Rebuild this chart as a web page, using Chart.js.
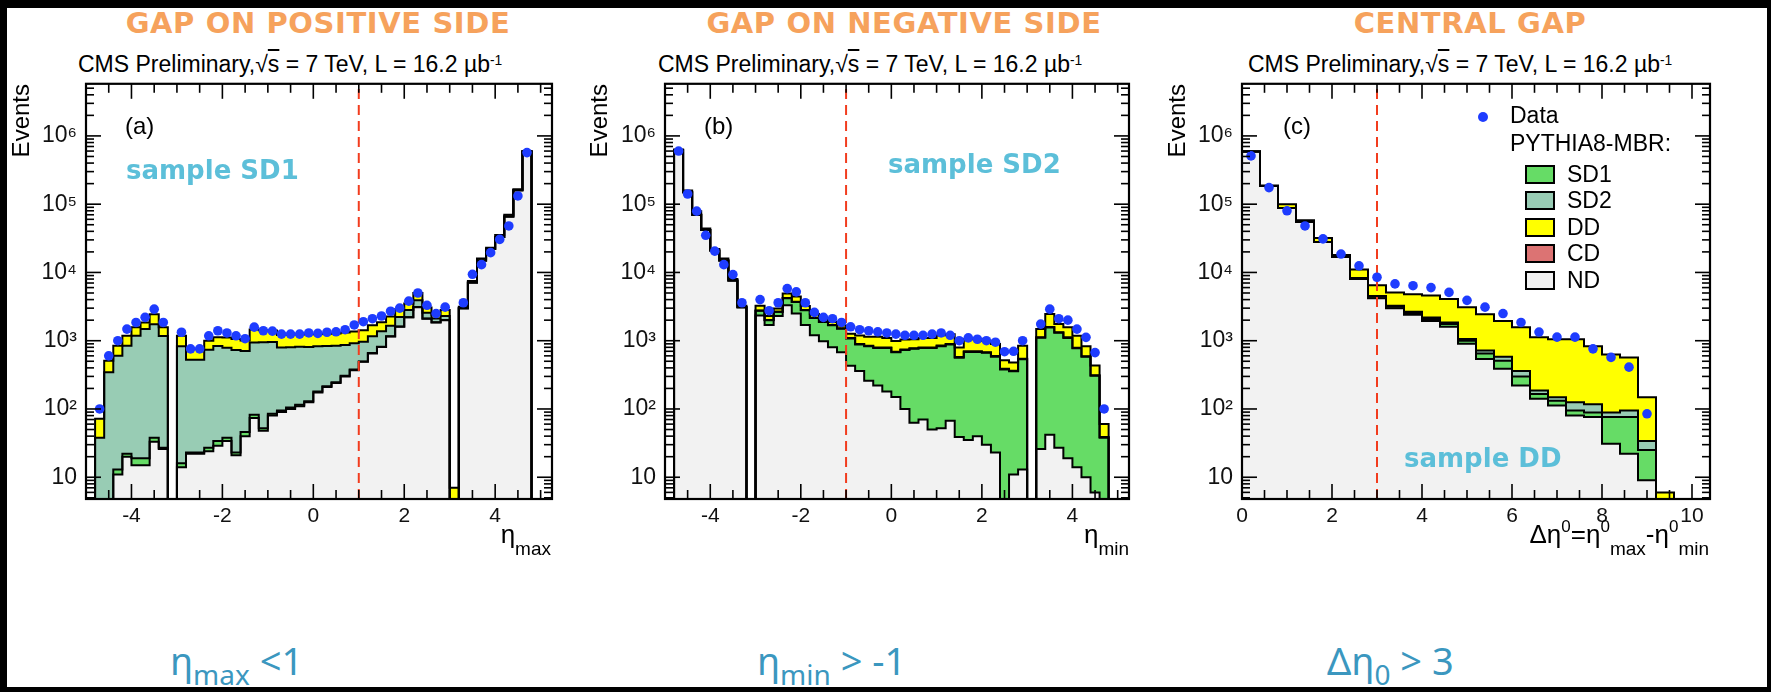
<!DOCTYPE html>
<html>
<head>
<meta charset="utf-8">
<title>Rapidity gap distributions</title>
<script src="https://cdn.jsdelivr.net/npm/chart.js@4.4.1/dist/chart.umd.min.js"></script>
<style>
  html, body { margin: 0; padding: 0; background: #000; width: 1771px; height: 692px; overflow: hidden; }
  #sheet { position: absolute; left: 7px; top: 8px; width: 1760px; height: 679px; background: #fff; }
  canvas { position: absolute; }
  .txt { position: absolute; white-space: nowrap; line-height: 1; font-family: "Liberation Sans", Arial, sans-serif; color: #000; }
  .gap { font-family: "DejaVu Sans", sans-serif; font-weight: bold; font-size: 29px; letter-spacing: 0.6px; color: #f6a25c; transform: translateX(-50%); }
  .cms { font-size: 23px; }
  .ov { text-decoration: overline; }
  .up { font-size: 0.6em; position: relative; top: -0.5em; }
  .events { font-size: 24px; transform-origin: 0 0; transform: rotate(-90deg) translateX(-100%); }
  .tag { font-size: 24px; }
  .sample { font-family: "DejaVu Sans", sans-serif; font-weight: bold; font-size: 26px; color: #5cbfd9; }
  .axis { font-size: 26px; transform: translateX(-100%); }
  .axis .sb { font-size: 19px; position: relative; top: 12px; }
  .axis .sp { font-size: 17px; position: relative; top: -11px; }
  .cut { font-family: "Noto Sans", sans-serif; font-size: 38px; color: #3b97bf; }
  .cut .cs { font-size: 28px; position: relative; top: 10px; }
  .leg { font-size: 23px; }
  .box { position: absolute; width: 26px; height: 15px; border: 2px solid #000; }
  .dot { position: absolute; width: 10px; height: 10px; border-radius: 50%; background: #1e3cff; }
</style>
</head>
<body>
<div id="sheet"></div>

<canvas id="panelA" width="550" height="460" style="left:8px;top:79px"></canvas>
<canvas id="panelB" width="548" height="460" style="left:587px;top:79px"></canvas>
<canvas id="panelC" width="552" height="460" style="left:1164px;top:79px"></canvas>

<div class="txt gap" style="left:318px;top:9px">GAP ON POSITIVE SIDE</div>
<div class="txt gap" style="left:904px;top:9px">GAP ON NEGATIVE SIDE</div>
<div class="txt gap" style="left:1470px;top:9px">CENTRAL GAP</div>

<div class="txt cms" style="left:78px;top:53px">CMS Preliminary,√<span class="ov">s</span> = 7 TeV, L = 16.2 µb<span class="up">-1</span></div>
<div class="txt cms" style="left:658px;top:53px">CMS Preliminary,√<span class="ov">s</span> = 7 TeV, L = 16.2 µb<span class="up">-1</span></div>
<div class="txt cms" style="left:1248px;top:53px">CMS Preliminary,√<span class="ov">s</span> = 7 TeV, L = 16.2 µb<span class="up">-1</span></div>

<div class="txt events" style="left:9px;top:84px">Events</div>
<div class="txt events" style="left:587px;top:84px">Events</div>
<div class="txt events" style="left:1165px;top:84px">Events</div>

<div class="txt tag" style="left:125px;top:114px">(a)</div>
<div class="txt tag" style="left:704px;top:114px">(b)</div>
<div class="txt tag" style="left:1283px;top:114px">(c)</div>

<div class="txt sample" style="left:126px;top:157px">sample SD1</div>
<div class="txt sample" style="left:888px;top:151px">sample SD2</div>
<div class="txt sample" style="left:1404px;top:445px">sample DD</div>

<div class="txt axis" style="left:551px;top:521px">η<span class="sb">max</span></div>
<div class="txt axis" style="left:1129px;top:521px">η<span class="sb">min</span></div>
<div class="txt axis" style="left:1709px;top:521px">Δη<span class="sp">0</span>=η<span class="sp">0</span><span class="sb">max</span>-η<span class="sp">0</span><span class="sb">min</span></div>

<div id="legend"></div>

<div class="txt cut" style="left:170px;top:641px">η<span class="cs">max</span> &lt;1</div>
<div class="txt cut" style="left:757px;top:641px">η<span class="cs">min</span> &gt; -1</div>
<div class="txt cut" style="left:1327px;top:641px">Δη<span class="cs">0</span> &gt; 3</div>

<script>
// ---- binning ----
const ETA_LOW = -4.8, ETA_WIDTH = 0.2;   // 48 bins in eta
const DETA_LOW = 0, DETA_WIDTH = 0.4;    // 26 bins in delta eta

// ---- (a) eta_max, gap on positive side ----
const ndA  = [0, 0, 11, 20, 15, 15, 33, 26, 0,
  14, 22, 22, 24, 29, 34, 21, 40, 74, 48,
  80, 90, 100, 110, 125, 175, 210, 240, 300, 370,
  490, 650, 810, 1150, 1600, 2200, 3100, 2100, 1850, 2000,
  4, 3000, 7100, 15000, 22000, 33000, 66000, 160000, 590000];
const sd1A = [0, 0, 2, 2, 4, 4, 5, 1, 0,
  2, 1, 1, 3, 5, 4, 2, 6, 8, 4,
  5, 5, 5, 5, 5, 5, 6, 6, 6, 8,
  8, 8, 8, 10, 12, 15, 15, 10, 10, 10,
  0, 0, 0, 0, 0, 0, 0, 0, 0];
const sd2A = [38, 345, 590, 820, 1160, 1460, 1710, 1150, 0,
  815, 505, 505, 710, 800, 750, 710, 660, 860, 900,
  870, 700, 700, 700, 680, 650, 620, 600, 560, 540,
  470, 500, 560, 500, 620, 600, 800, 450, 250, 300,
  0, 0, 0, 0, 0, 0, 0, 0, 0];
const ddA  = [34, 165, 240, 340, 400, 370, 700, 400, 0,
  350, 230, 230, 260, 290, 330, 330, 300, 520, 470,
  460, 420, 430, 420, 430, 420, 430, 430, 450, 450,
  460, 520, 480, 600, 650, 700, 1100, 500, 300, 500,
  3, 150, 400, 1000, 1000, 2500, 4000, 6000, 10000];
const dataA = [100, 600, 1000, 1480, 1850, 2200, 2900, 1850, null,
  1330, 760, 760, 1180, 1400, 1300, 1180, 1070, 1580, 1400,
  1380, 1250, 1250, 1250, 1300, 1280, 1330, 1350, 1450, 1700,
  1900, 2100, 2300, 2700, 3000, 3800, 5000, 3300, 2500, 3100,
  null, 3600, 9400, 13000, 19500, 30500, 48000, 132000, 570000];

// ---- (b) eta_min, gap on negative side ----
const ndB  = [615000, 150000, 70000, 42000, 21000, 15000, 7600, 3100, 0,
  2350, 1700, 2300, 3300, 2500, 1700, 1200, 980, 800, 680,
  430, 360, 260, 220, 180, 150, 100, 63, 70, 50,
  52, 67, 39, 35, 40, 30, 23, 0, 11, 13,
  0, 26, 42, 27, 19, 14, 10, 6, 0];
const sd1B = [0, 0, 0, 0, 0, 0, 0, 0, 0,
  400, 300, 350, 900, 1200, 1100, 950, 900, 880, 820,
  650, 520, 570, 560, 600, 530, 630, 700, 710, 730,
  780, 810, 525, 650, 645, 635, 560, 380, 345, 520,
  0, 1080, 1520, 1280, 1080, 760, 570, 300, 38];
const sd2B = [0, 0, 0, 0, 0, 0, 0, 0, 0,
  10, 8, 8, 20, 25, 25, 20, 18, 18, 16,
  14, 12, 12, 12, 12, 11, 13, 14, 14, 15,
  16, 16, 11, 13, 13, 13, 12, 8, 7, 10,
  0, 22, 30, 26, 22, 16, 12, 6, 1];
const ddB  = [15000, 8000, 9000, 2000, 1000, 1000, 400, 150, 0,
  500, 300, 300, 700, 700, 400, 300, 220, 180, 160,
  170, 300, 300, 350, 300, 300, 300, 270, 300, 300,
  350, 350, 220, 350, 350, 320, 300, 130, 115, 300,
  0, 360, 870, 420, 460, 390, 240, 120, 21];
const dataB = [600000, 141000, 79000, 35000, 20500, 13000, 9300, 3600, null,
  4000, 2750, 3600, 5800, 5200, 3600, 2600, 2200, 2100, 1850,
  1600, 1450, 1400, 1350, 1300, 1250, 1200, 1200, 1200, 1250,
  1300, 1200, 1000, 1100, 1050, 1000, 950, 690, 700, 1000,
  null, 1750, 2900, 2100, 2000, 1480, 1120, 670, 100];

// ---- (c) delta eta, central gap ----
const ndC  = [590000, 185000, 88000, 55000, 28000, 17000, 8000, 4200, 3000, 2400, 1950, 1600, 900,
  540, 390, 220, 141, 112, 80, 76, 31, 22, 9, 0, 0, 0];
const sd1C = [0, 0, 0, 0, 0, 0, 200, 200, 150, 150, 130, 150, 100,
  110, 120, 80, 25, 20, 15, 13, 45, 54, 16, 0, 0, 0];
const sd2C = [0, 0, 0, 0, 0, 0, 100, 100, 100, 100, 100, 100, 60,
  70, 70, 60, 20, 16, 30, 28, 13, 19, 9, 0, 0, 0];
const ddC  = [0, 3000, 12000, 3000, 4000, 1000, 2700, 2000, 1850, 2150, 2400, 2250, 2040,
  1730, 1370, 1220, 935, 900, 925, 713, 540, 475, 114, 6, 0, 0];
const dataC = [510000, 175000, 80000, 48000, 31000, 18600, 12500, 8500, 6800, 6400, 6000, 5100, 3900,
  3100, 2500, 1850, 1340, 1130, 1130, 760, 570, 410, 85, null, null, null];

// ---- axes ----
const Y_MIN = 4.8, Y_MAX = 5.8e6;
const yTicks = [10, 100, 1000, 10000, 100000, 1000000];
const etaTicks = [-4, -2, 0, 2, 4];
const detaTicks = [0, 2, 4, 6, 8, 10];

// legend entries, in legend order
const components = [
  { name: 'SD1', color: '#66dc66' },
  { name: 'SD2', color: '#98ccb4' },
  { name: 'DD',  color: '#ffff00' },
  { name: 'CD',  color: '#dc7373' },
  { name: 'ND',  color: '#f2f2f2' }
];
const colorOf = n => components.find(c => c.name === n).color;
// stacking order bottom -> top
const stackNames = ['ND', 'SD1', 'SD2', 'DD'];

const SUP = { 2: '\u00b2', 3: '\u00b3', 4: '\u2074', 5: '\u2075', 6: '\u2076' };
const FLOOR = 0.5; // empty bins sit below the axis minimum

// histogram outline: one point per bin low edge, closed at both ends
function stepPoints(lo, w, values) {
  const n = values.length;
  const pts = [{ x: lo, y: FLOOR }];
  values.forEach((v, i) => pts.push({ x: lo + i * w, y: Math.max(v, FLOOR) }));
  pts.push({ x: lo + n * w, y: Math.max(values[n - 1], FLOOR) });
  pts.push({ x: lo + n * w, y: FLOOR });
  return pts;
}

// ROOT-like frame with inward ticks on all four sides
const frameTicks = {
  id: 'frameTicks',
  afterDraw(chart, args, opts) {
    const { ctx, chartArea: a, scales: { x, y } } = chart;
    ctx.save();
    ctx.strokeStyle = '#000';
    ctx.lineWidth = 1.6;
    const seg = (x1, y1, x2, y2) => { ctx.beginPath(); ctx.moveTo(x1, y1); ctx.lineTo(x2, y2); ctx.stroke(); };
    for (let d = 0; d <= 7; d++) {
      for (let m = 1; m <= 9; m++) {
        const v = m * Math.pow(10, d);
        if (v < y.min || v > y.max) continue;
        const py = y.getPixelForValue(v);
        const len = m === 1 ? 15 : 8;
        seg(a.left, py, a.left + len, py);
        seg(a.right, py, a.right - len, py);
      }
    }
    const step = opts.minor;
    for (let k = Math.ceil(x.min / step); k * step <= x.max + 1e-9; k++) {
      const v = k * step;
      const px = x.getPixelForValue(v);
      const major = Math.abs(v / opts.major - Math.round(v / opts.major)) < 1e-6;
      const len = major ? 15 : 9;
      seg(px, a.bottom, px, a.bottom - len);
      seg(px, a.top, px, a.top + len);
    }
    ctx.lineWidth = 2.2;
    ctx.strokeRect(a.left, a.top, a.right - a.left, a.bottom - a.top);
    ctx.restore();
  }
};

function drawPanel(p) {
  const levels = [];
  let running = p.layers[0].map(() => 0);
  p.layers.forEach(layer => {
    running = running.map((s, i) => s + layer[i]);
    levels.push(running);
  });

  const datasets = levels.map((level, k) => ({
    type: 'line',
    data: stepPoints(p.binLow, p.binWidth, level),
    stepped: 'before',
    fill: k === 0 ? 'start' : '-1',
    backgroundColor: colorOf(stackNames[k]),
    borderColor: '#000',
    borderWidth: 2,
    pointRadius: 0,
    order: 5
  }));

  datasets.push({
    type: 'line',
    data: [{ x: p.cut, y: Y_MIN }, { x: p.cut, y: Y_MAX }],
    borderColor: '#f23c1e',
    borderWidth: 2,
    borderDash: [10, 6],
    pointRadius: 0,
    fill: false,
    order: 1
  });

  datasets.push({
    type: 'scatter',
    data: p.data.map((v, i) => v === null ? null : { x: p.binLow + (i + 0.5) * p.binWidth, y: v }).filter(Boolean),
    backgroundColor: '#1e3cff',
    borderWidth: 0,
    pointRadius: 4.8,
    order: 0
  });

  new Chart(document.getElementById(p.canvas), {
    type: 'line',
    data: { datasets },
    options: {
      responsive: false,
      animation: false,
      devicePixelRatio: 1,
      events: [],
      layout: { padding: { top: 4, right: 6, left: 0, bottom: 0 } },
      plugins: {
        legend: { display: false },
        tooltip: { enabled: false },
        filler: { drawTime: 'beforeDatasetsDraw' },
        frameTicks: { minor: 0.5, major: 2 }
      },
      scales: {
        x: {
          type: 'linear',
          min: p.xMin,
          max: p.xMax,
          grid: { display: false, drawTicks: false },
          border: { display: false },
          afterBuildTicks: s => { s.ticks = p.xTicks.map(v => ({ value: v })); },
          afterFit: s => { s.height = 40; s.paddingLeft = 0; s.paddingRight = 0; },
          ticks: {
            autoSkip: false,
            maxRotation: 0,
            padding: 5,
            color: '#111',
            font: { family: 'Liberation Sans', size: 21 },
            callback: v => String(v)
          }
        },
        y: {
          type: 'logarithmic',
          min: Y_MIN,
          max: Y_MAX,
          grid: { display: false, drawTicks: false },
          border: { display: false },
          afterBuildTicks: s => { s.ticks = yTicks.map(v => ({ value: v })); },
          afterFit: s => { s.width = 78; s.paddingTop = 0; s.paddingBottom = 0; },
          ticks: {
            autoSkip: false,
            padding: 9,
            color: '#111',
            font: { family: 'Liberation Sans', size: 23 },
            callback: v => {
              const e = Math.round(Math.log10(v));
              return e === 1 ? '10' : '10' + SUP[e];
            }
          }
        }
      }
    },
    plugins: [frameTicks]
  });
}

drawPanel({ canvas: 'panelA', xMin: -5, xMax: 5.25, binLow: ETA_LOW, binWidth: ETA_WIDTH,
  xTicks: etaTicks, layers: [ndA, sd1A, sd2A, ddA], data: dataA, cut: 1 });
drawPanel({ canvas: 'panelB', xMin: -5, xMax: 5.25, binLow: ETA_LOW, binWidth: ETA_WIDTH,
  xTicks: etaTicks, layers: [ndB, sd1B, sd2B, ddB], data: dataB, cut: -1 });
drawPanel({ canvas: 'panelC', xMin: 0, xMax: 10.4, binLow: DETA_LOW, binWidth: DETA_WIDTH,
  xTicks: detaTicks, layers: [ndC, sd1C, sd2C, ddC], data: dataC, cut: 3 });

// legend of panel (c)
(function buildLegend() {
  const host = document.getElementById('legend');
  const add = (cls, style, text) => {
    const el = document.createElement('div');
    el.className = cls;
    el.style.cssText = style;
    if (text) el.textContent = text;
    host.appendChild(el);
  };
  add('dot', 'left:1478px;top:112px');
  add('txt leg', 'left:1510px;top:104px', 'Data');
  add('txt leg', 'left:1510px;top:132px', 'PYTHIA8-MBR:');
  components.forEach((c, i) => {
    const cy = 174 + i * 26.5;
    add('box', `left:1525px;top:${cy - 9.5}px;background:${c.color}`);
    add('txt leg', `left:1567px;top:${cy - 11.2}px`, c.name);
  });
})();
</script>
</body>
</html>
